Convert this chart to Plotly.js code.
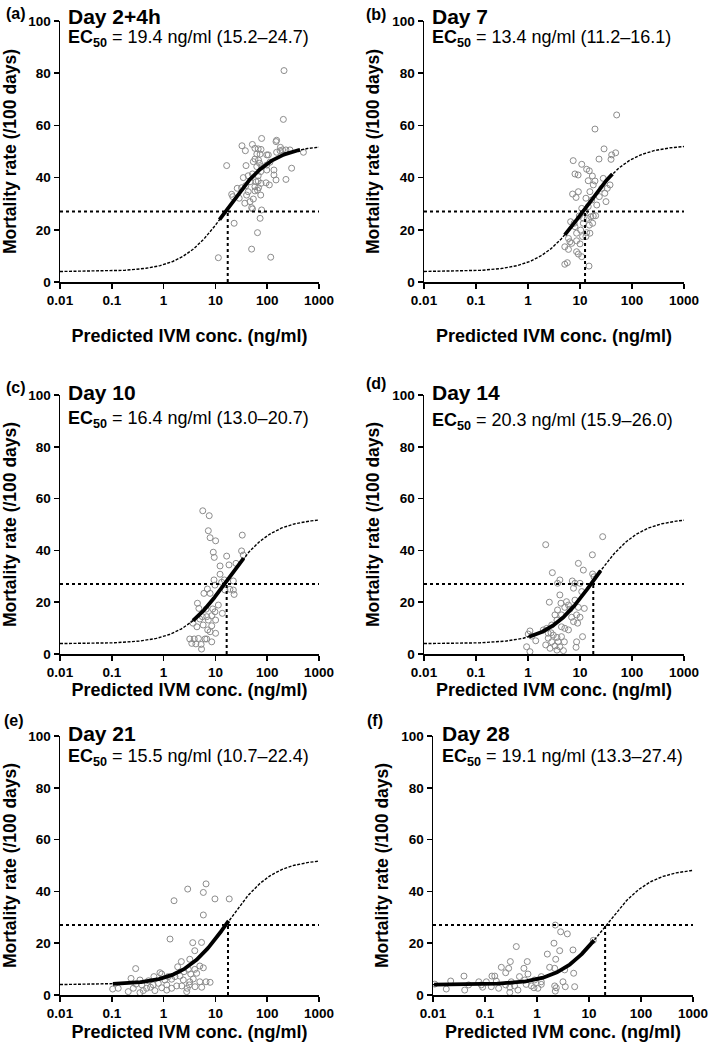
<!DOCTYPE html>
<html>
<head>
<meta charset="utf-8">
<script src="https://cdn.plot.ly/plotly-3.0.1.min.js"></script>
<style>html,body{margin:0;padding:0;background:#fff;}#chart{width:709px;height:1052px;}</style>
</head>
<body>
<div id="chart"></div>
<script>
// ---- Panel metadata ----
const panelLabels = ['(a)','(b)','(c)','(d)','(e)','(f)'];
const dayTitles = ['Day 2+4h','Day 7','Day 10','Day 14','Day 21','Day 28'];
const ec50 = [19.4, 13.4, 16.4, 20.3, 15.5, 19.1];
const ciLow = ['15.2','11.2','13.0','15.9','10.7','13.3'];
const ciHigh = ['24.7','16.1','20.7','26.0','22.4','27.4'];
// position of the drawn midpoint (vertical dotted line)
const midLine = [17.3, 12.5, 16.5, 18.0, 17.5, 20.4];
// fitted Emax model parameters
const e0 = [4, 4, 4, 4, 4, 4];
const emax = [48.5, 48.5, 48.5, 48.5, 48.5, 45];
const hill = [1, 1, 1, 1, 1, 1];
const halfLine = 27;
// range of the solid (observed-data) part of the curve
const fitLo = [12, 5.1, 3.7, 1.05, 0.105, 0.0105];
const fitHi = [430, 42, 35, 25, 18, 12.5];
const xTickVals = [0.01, 0.1, 1, 10, 100, 1000];
const xTickText = ['0.01', '0.1', '1', '10', '100', '1000'];
const yTickVals = [0, 20, 40, 60, 80, 100];

// ---- Scatter data: predicted IVM conc (ng/ml) vs mortality rate (/100 days) ----
const concA = [211,205,78,32.6,37.9,51.7,58,67,76,63,73,58,68,98,105,148,152,180,198,230,275,152,500,16.5,39,63,78,98,135,296,230,148,135,34.6,43,52,67,75,67,76,95,110,26.4,32,38.5,58,65,20.6,21.6,28.8,40,58,75,37,46.6,54,50,52,78,73,23,65,50,11.4,117,54,71,61,68,98,113,177,46.6,43];
const rateA = [81.0,62.3,55.0,52.2,50.3,52.7,51.2,51.0,50.8,49.0,49.0,47.1,46.7,48.7,48.7,53.8,54.3,51.6,50.6,50.6,50.6,49.7,49.7,44.6,44.6,44.2,44.2,42.9,42.9,43.6,39.3,39.1,41.0,40.0,40.7,41.4,40.7,42.3,38.7,37.8,38.0,37.2,35.9,36.1,36.9,36.5,35.2,33.6,32.7,32.1,33.3,34.9,33.3,30.2,30.8,31.8,28.5,28.0,27.6,24.4,22.5,18.9,12.6,9.3,9.5,46.1,45.5,38.4,36.1,44.8,45.9,50.3,38.4,34.6];

const concB = [50.7,19.4,29,48.5,40.7,39.5,23.2,7.4,10.8,8.0,9.2,13.4,15.1,17.3,14.4,18.0,28,37.8,33.5,30,23.5,15.5,7.2,8.4,9.3,13.0,16.8,31.6,10.8,14.4,18,16.1,20,9.7,6.6,11.6,15.1,8.0,10.3,13.4,8.6,15.5,6.0,6.4,6.9,5.1,8.6,6.0,10,8.6,9.3,10.8,5.1,5.7,14.9,12.5,11.6,13.0,19.4,26.2,13.8,11.2,7.7,17.5,21];
const rateB = [64.0,58.6,51.0,49.5,48.7,47.0,47.1,46.5,45.1,41.4,41.0,43.2,42.6,40.6,38.8,37.2,39.7,37.2,35.9,34.0,32.7,34.6,33.7,32.4,34.6,32.1,31.4,30.8,28.2,28.9,25.3,25.0,25.4,25.3,23.1,22.5,21.8,21.2,19.9,18.9,18.7,18.7,16.7,15.4,14.8,13.5,15.8,12.5,14.6,11.6,10.7,9.7,6.8,7.4,6.1,26.9,24.4,17.4,38.7,35.9,24.4,17.4,22.5,22.5,29.5];

const concC = [5.7,7.6,7.3,7.9,10.1,33,9.1,9.5,16.5,32,34.5,12.3,18.3,25,12.3,14.9,13.2,9.8,22.2,19.1,23,7.0,6.0,7.9,4.5,4.8,6.6,8.9,9.8,13.6,11.4,8.5,6.8,5.6,5.0,7.3,10.1,3.7,5.8,8.5,4.4,7.1,7.9,3.2,3.9,4.7,6.3,6.8,3.5,4.2,5.3,8.5,5.4,10.1,22.2,15.3,9.4];
const rateC = [55.3,53.4,47.6,44.9,43.7,45.9,39.3,37.3,37.8,39.8,38.2,34.0,34.4,35.0,30.8,28.6,27.7,26.6,28.2,25.0,23.0,25.1,23.4,23.4,19.6,17.6,17.3,17.4,16.3,15.7,18.9,14.8,14.4,14.4,13.5,13.1,13.1,11.9,11.2,10.9,10.5,9.3,8.6,5.8,5.8,6.0,5.8,5.8,4.1,3.9,3.7,4.7,1.9,8.0,24.7,24.7,28.6];

const concD = [27.3,2.19,17.3,9.3,11.6,2.94,17.5,18.6,4.1,3.7,7.1,8.0,10,7.5,10.8,4.1,2.57,4.3,6.0,8.0,9.3,12.1,3.7,5.1,6.4,3.3,4.4,8.6,6.9,10,3.6,7.5,9.0,2.86,4.4,2.29,5.1,1.97,1.09,1.01,1.18,1.41,2.45,3.07,3.6,4.4,2.45,2.86,3.8,5.0,8.6,11.2,2.19,3.3,4.1,2.65,3.6,4.8,8.4,0.94,1.09,6.0,2.77,5.5];
const rateD = [45.3,42.2,38.3,35.0,32.4,31.4,30.9,29.8,28.6,27.3,28.2,27.3,27.3,25.4,24.1,22.8,20.0,19.6,18.9,20.8,18.0,17.6,17.0,18.0,17.3,15.1,15.1,15.1,14.2,14.2,13.1,12.5,11.9,11.2,10.5,9.9,9.9,9.3,8.9,7.7,6.9,5.1,8.0,7.3,6.4,6.7,6.1,4.7,4.7,4.7,4.7,6.7,3.5,3.1,2.8,2.2,1.5,1.3,2.6,2.8,0.9,9.3,8.2,20.2];

const concE = [6.6,2.92,5.85,9.8,18.5,1.59,5.85,1.33,3.65,5.4,4.0,3.2,2.2,1.87,5.0,0.289,3.0,4.0,5.85,0.85,0.92,2.48,4.35,0.65,1.23,1.66,2.07,3.34,6.6,7.9,0.235,0.35,0.51,1.06,1.43,2.4,3.2,3.74,5.0,0.293,0.38,0.63,0.79,1.15,1.79,2.24,3.13,4.04,5.44,0.47,0.56,0.92,1.43,2.86,0.104,0.133,0.26,0.208,0.405,0.68,1.15,2.79,0.35];
const rateE = [42.9,40.9,39.6,37.1,37.1,36.4,30.9,21.6,20.2,20.3,17.1,13.8,12.9,10.9,11.2,10.2,9.9,9.9,10.5,8.6,8.1,9.0,8.4,7.1,7.1,7.1,7.3,8.1,5.1,4.9,6.4,5.8,5.5,5.8,6.1,5.8,5.1,6.2,5.1,4.2,3.9,3.9,4.5,3.9,3.5,3.5,3.9,3.2,3.0,2.6,3.0,2.8,2.6,2.6,2.3,2.6,2.6,1.3,1.7,1.7,1.9,1.3,0.9];

const concF = [2.25,2.85,3.83,0.40,2.12,2.73,4.92,1.58,2.29,0.307,0.65,0.206,0.285,0.56,1.75,3.4,0.25,0.67,5.07,0.0394,0.136,0.154,0.46,1.21,2.19,0.0219,0.076,0.106,0.165,0.32,0.58,0.90,1.21,3.16,0.0108,0.0485,0.085,0.132,0.25,0.37,0.62,0.78,1.21,0.018,0.0407,0.09,0.183,0.3,0.43,0.875,1.04,2.19,2.35,3.5,5.3,0.3,2.25,12.1];
const rateF = [27.0,24.4,23.6,18.7,20.0,17.1,17.4,15.8,13.8,12.9,12.9,10.7,10.3,10.3,10.7,9.7,8.6,8.1,8.4,7.3,7.3,7.3,7.1,7.1,10.3,5.4,5.1,5.1,5.4,5.1,5.8,5.8,5.1,5.1,4.2,3.9,3.9,3.2,3.9,3.5,4.1,3.5,4.1,2.3,1.9,3.0,2.6,3.0,1.9,2.8,2.6,3.5,2.8,3.2,3.2,1.0,1.5,21.1];

const concAll = [concA, concB, concC, concD, concE, concF];
const rateAll = [rateA, rateB, rateC, rateD, rateE, rateF];

// ---- Panel positions (pixels in the 709x1052 figure) ----
const W = 709, H = 1052;
const plotX = [[60,319],[424,684],[60,319],[424,684],[60,319],[433,693]];
const plotY = [[21,282],[21,282],[395,654],[395,654],[736,995],[736,995]];
const titleStandoff = [22,22,2,2,5,5];
const labelPos = [[16,14],[376,15],[16,387],[376,383],[14,720],[375,720]];
const dayPos = [[66,16],[430,16],[66,392],[430,392],[66,733],[440,733]];
const ecPos = [[66,39],[430,39],[66,420],[430,421],[66,757],[440,757]];

function model(i, c) {
  const h = hill[i];
  return e0[i] + emax[i] * Math.pow(c, h) / (Math.pow(midLine[i], h) + Math.pow(c, h));
}
function logSpace(lo, hi, n) {
  const a = Math.log10(lo), b = Math.log10(hi), out = [];
  for (let k = 0; k < n; k++) out.push(Math.pow(10, a + (b - a) * k / (n - 1)));
  return out;
}

const FONT = 'Liberation Sans, Arial, sans-serif';
const traces = [];
const layout = {
  width: W, height: H,
  margin: {l: 0, r: 0, t: 0, b: 0},
  paper_bgcolor: '#fff', plot_bgcolor: '#fff',
  showlegend: false,
  font: {family: FONT, color: '#000'},
  annotations: []
};

for (let i = 0; i < 6; i++) {
  const sx = i === 0 ? '' : String(i + 1);
  const xa = 'x' + sx, ya = 'y' + sx;
  // scatter
  traces.push({
    x: concAll[i], y: rateAll[i], xaxis: xa, yaxis: ya, type: 'scatter', mode: 'markers',
    marker: {symbol: 'circle-open', size: 6, color: '#8c8c8c', line: {width: 1, color: '#8c8c8c'}},
    hoverinfo: 'skip'
  });
  // dotted reference lines
  traces.push({
    x: [0.01, 1000], y: [halfLine, halfLine], xaxis: xa, yaxis: ya, type: 'scatter', mode: 'lines',
    line: {color: '#000', width: 2, dash: 'dot'}, hoverinfo: 'skip'
  });
  traces.push({
    x: [midLine[i], midLine[i]], y: [0, halfLine], xaxis: xa, yaxis: ya, type: 'scatter', mode: 'lines',
    line: {color: '#000', width: 2, dash: 'dot'}, hoverinfo: 'skip'
  });
  // dashed full model curve
  const cx = logSpace(0.01, 1000, 200);
  traces.push({
    x: cx, y: cx.map(c => model(i, c)), xaxis: xa, yaxis: ya, type: 'scatter', mode: 'lines',
    line: {color: '#000', width: 1.4, dash: '3px,1.5px'}, hoverinfo: 'skip'
  });
  // solid curve over observed range
  const sxp = logSpace(fitLo[i], fitHi[i], 120);
  traces.push({
    x: sxp, y: sxp.map(c => model(i, c)), xaxis: xa, yaxis: ya, type: 'scatter', mode: 'lines',
    line: {color: '#000', width: 3.8}, hoverinfo: 'skip'
  });

  layout['xaxis' + sx] = {
    type: 'log', range: [-2, 3], domain: [plotX[i][0] / W, plotX[i][1] / W],
    anchor: ya, tickvals: xTickVals, ticktext: xTickText,
    ticks: 'outside', ticklen: 5, tickwidth: 1.5, tickcolor: '#000',
    showline: true, linecolor: '#000', linewidth: 1.5, showgrid: false, zeroline: false,
    tickfont: {size: 13.5, family: FONT, weight: 'bold', color: '#000'},
    title: {text: 'Predicted IVM conc. (ng/ml)', font: {size: 18, family: FONT, weight: 'bold', color: '#000'}, standoff: titleStandoff[i]},
    automargin: false, fixedrange: true
  };
  layout['yaxis' + sx] = {
    range: [0, 100], domain: [1 - plotY[i][1] / H, 1 - plotY[i][0] / H],
    anchor: xa, tickvals: yTickVals,
    ticks: 'outside', ticklen: 5, tickwidth: 1.5, tickcolor: '#000',
    showline: true, linecolor: '#000', linewidth: 1.5, showgrid: false, zeroline: false,
    tickfont: {size: 13.5, family: FONT, weight: 'bold', color: '#000'},
    title: {text: 'Mortality rate (/100 days)', font: {size: 17.5, family: FONT, weight: 'bold', color: '#000'}, standoff: 8},
    automargin: false, fixedrange: true
  };

  layout.annotations.push({
    xref: 'paper', yref: 'paper', x: labelPos[i][0] / W, y: 1 - labelPos[i][1] / H,
    xanchor: 'center', yanchor: 'middle', showarrow: false,
    text: panelLabels[i], font: {size: 16, family: FONT, weight: 'bold', color: '#000'}
  });
  layout.annotations.push({
    xref: 'paper', yref: 'paper', x: dayPos[i][0] / W, y: 1 - dayPos[i][1] / H,
    xanchor: 'left', yanchor: 'middle', showarrow: false,
    text: dayTitles[i], font: {size: 21, family: FONT, weight: 'bold', color: '#000'}
  });
  layout.annotations.push({
    xref: 'paper', yref: 'paper', x: ecPos[i][0] / W, y: 1 - ecPos[i][1] / H,
    xanchor: 'left', yanchor: 'middle', showarrow: false,
    text: '<b>EC<sub>50</sub></b> = ' + ec50[i].toFixed(1) + ' ng/ml (' + ciLow[i] + '–' + ciHigh[i] + ')',
    font: {size: 18, family: FONT, color: '#000'}
  });
}

Plotly.newPlot('chart', traces, layout, {staticPlot: true, displayModeBar: false});
</script>
</body>
</html>
